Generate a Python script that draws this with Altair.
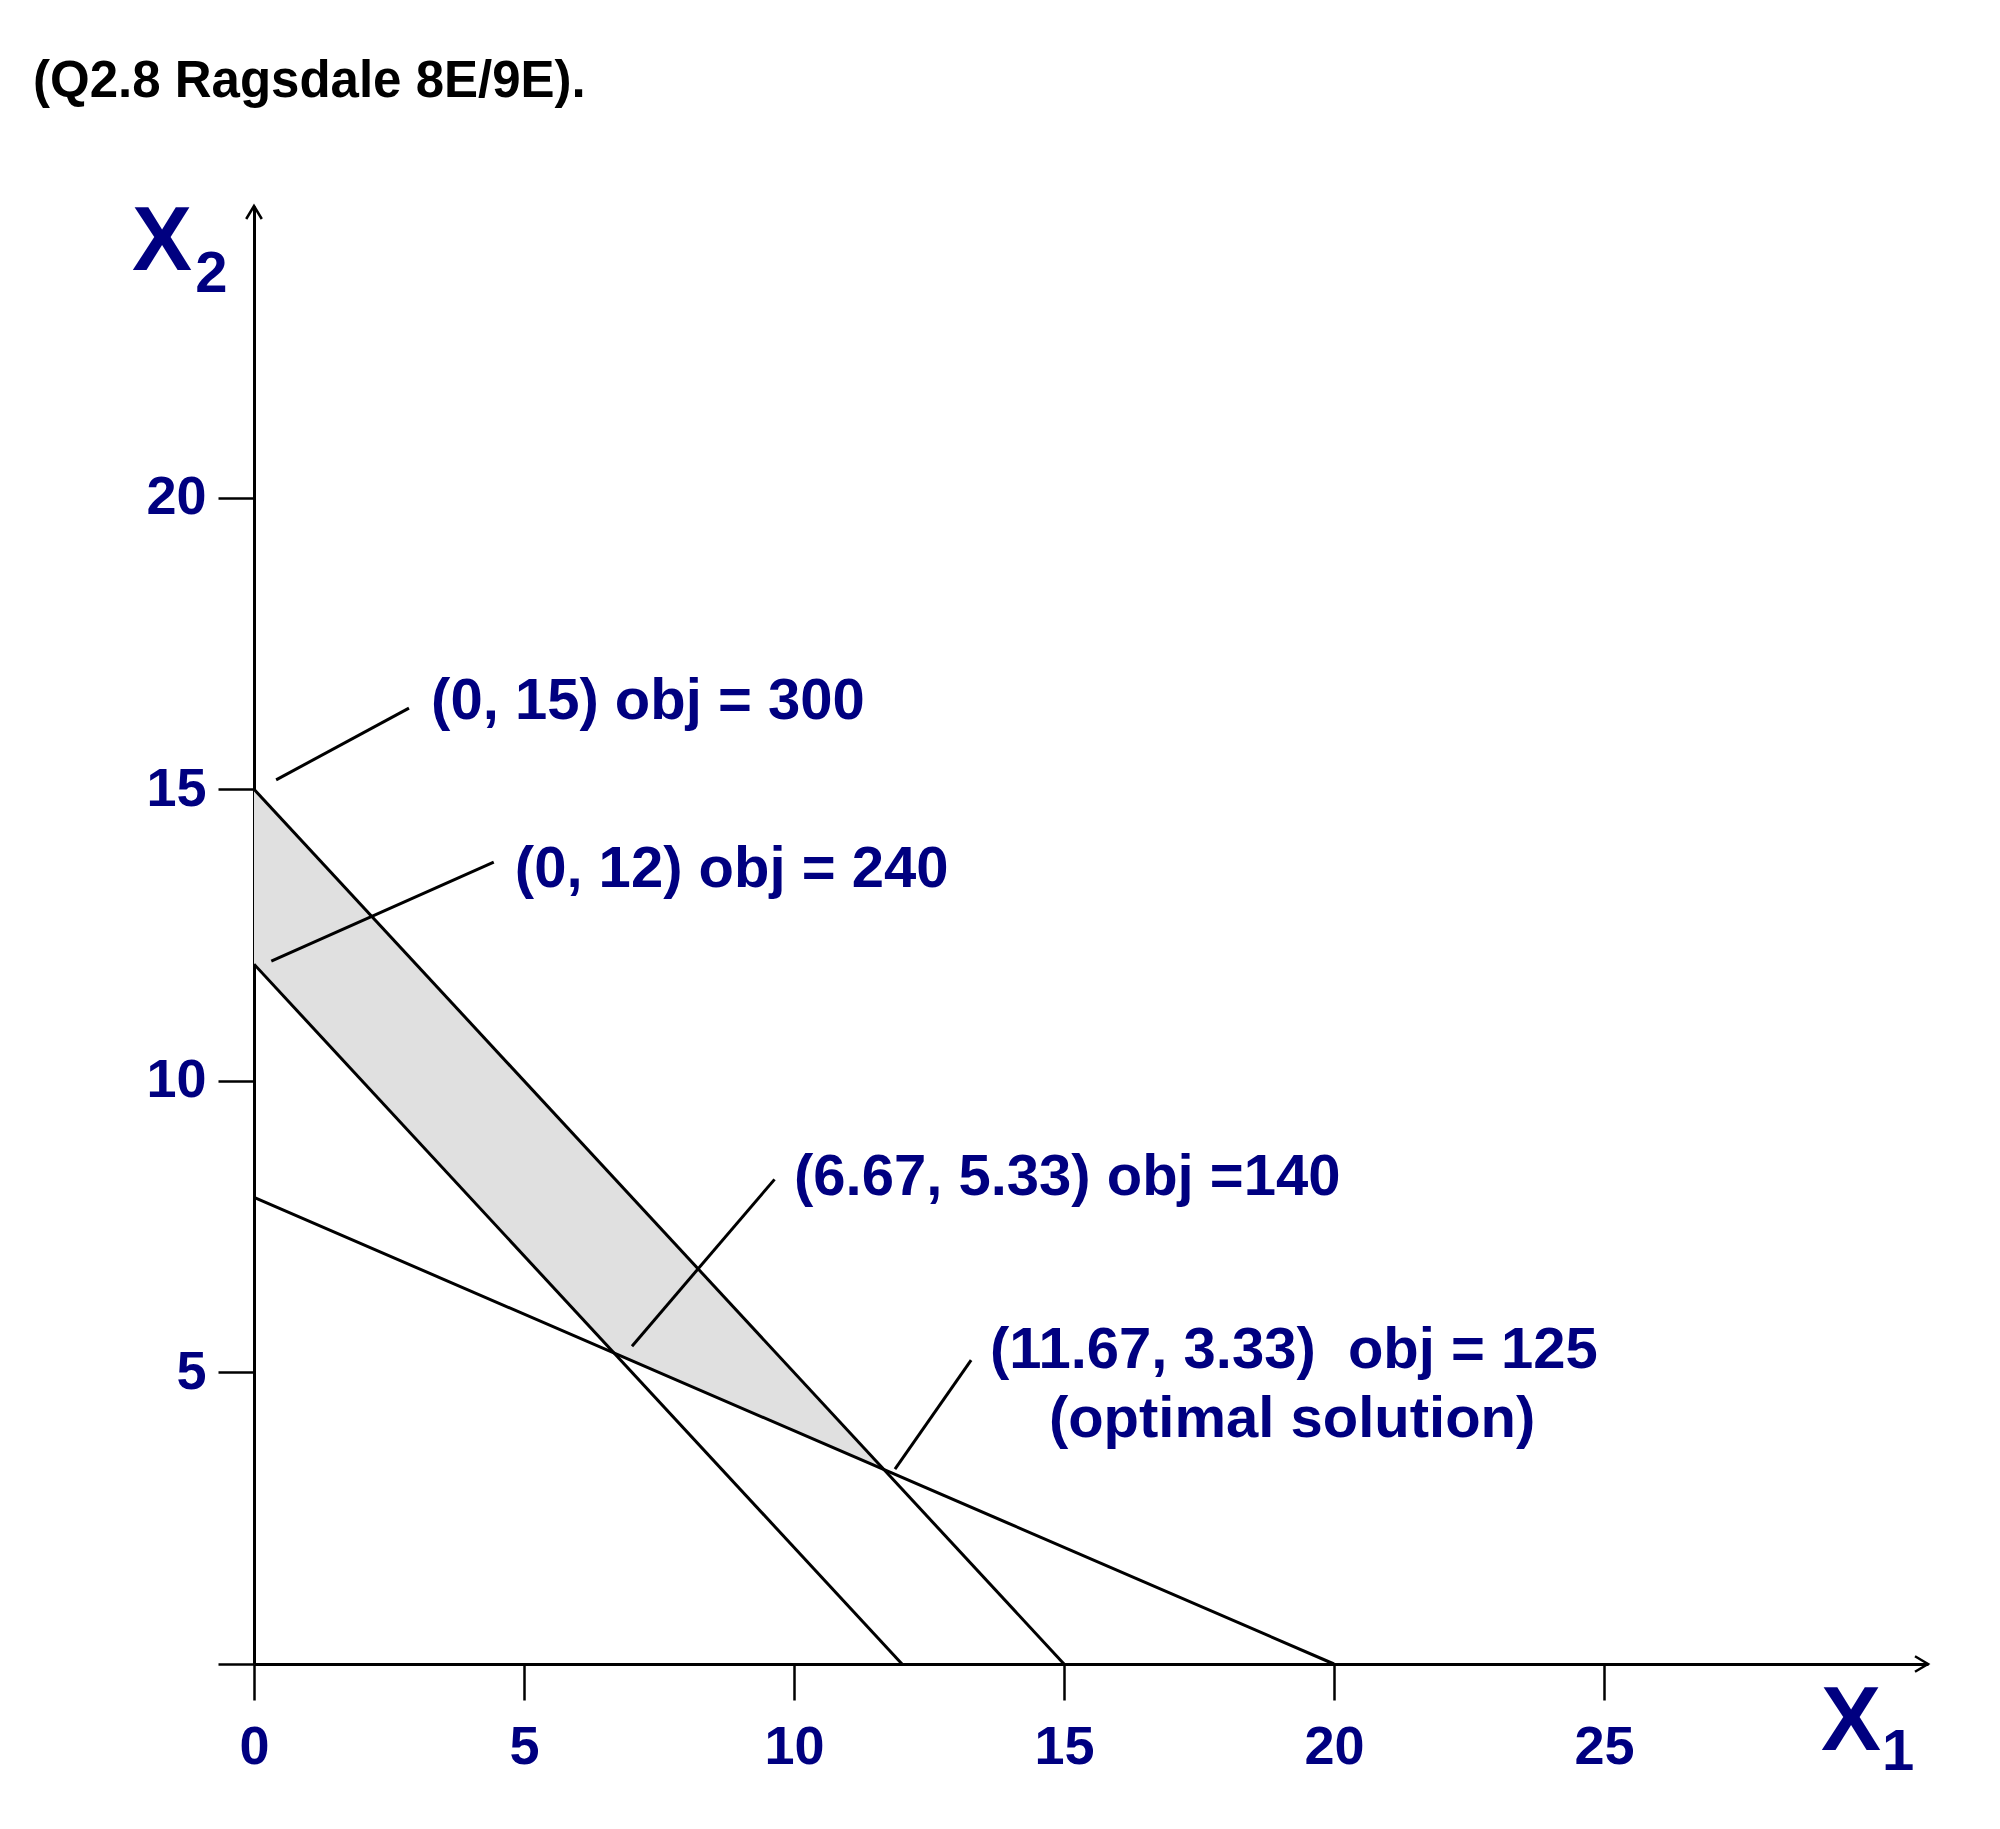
import altair as alt
import pandas as pd

NAVY = "#000080"
FONT = "Liberation Sans"

# ---- data ---------------------------------------------------------------
# constraint boundary lines: value on X2 axis (X1 = 0) and on X1 axis (X2 = 0)
line_names = ["c1", "c2", "c3"]
line_x2_at_zero = [15, 12, 8]
line_x1_at_zero = [15, 12, 20]

# shaded feasible region: upper and lower boundary at the corner X1 values
region_x = [0, 6.67, 11.67]
region_upper = [15, 8.33, 3.33]
region_lower = [12, 5.33, 3.33]

# annotation labels (left edge, baseline) in data units
ann_text = ["(0, 15) obj = 300", "(0, 12) obj = 240", "(6.67, 5.33) obj =140",
            "(11.67, 3.33)\u00a0 obj = 125", "(optimal solution)"]
ann_x = [3.28, 4.83, 10.0, 13.63, 14.72]
ann_y = [16.20, 13.32, 8.04, 5.08, 3.89]

# leader lines from corner points to labels
lead_x = [0.41, 0.32, 7.0, 11.87]
lead_y = [15.16, 12.05, 5.45, 3.34]
lead_x2 = [2.87, 4.44, 9.64, 13.28]
lead_y2 = [16.39, 13.75, 8.31, 5.21]

# axis names X2 / X1 (main letter + subscript)
axname_text = ["X", "2", "X", "1"]
axname_x = [-2.26, -1.09, 29.02, 30.15]
axname_y = [23.90, 23.53, -1.475, -1.82]
axname_size = [90, 58, 90, 58]

x_ticks = [0, 5, 10, 15, 20, 25]
y_ticks = [0, 5, 10, 15, 20]
X_MAX = 31
Y_MAX = 25

# ---- tables -------------------------------------------------------------
lines_df = pd.DataFrame({
    "c": line_names * 2,
    "x": [0] * 3 + line_x1_at_zero,
    "y": line_x2_at_zero + [0] * 3,
})
region_df = pd.DataFrame({"x": region_x, "y": region_upper, "y2": region_lower})
ann_df = pd.DataFrame({"t": ann_text, "x": ann_x, "y": ann_y})
lead_df = pd.DataFrame({"x": lead_x, "y": lead_y, "x2": lead_x2, "y2": lead_y2})
axname_df = pd.DataFrame({"t": axname_text, "x": axname_x, "y": axname_y, "fs": axname_size})
arrow_df = pd.DataFrame({
    "x": [X_MAX, 0], "y": [0, Y_MAX],
    "shape": ["M-1,-0.6L0,0L-1,0.6", "M-0.6,1L0,0L0.6,1"],
})

# ---- scales / axes ------------------------------------------------------
xs = alt.Scale(domain=[0, X_MAX], nice=False, zero=False)
ys = alt.Scale(domain=[0, Y_MAX], nice=False, zero=False)
axis_common = dict(grid=False, domainColor="black", domainWidth=3,
                   tickColor="black", tickWidth=2.5, tickSize=36,
                   labelFont=FONT, labelFontWeight="bold", labelFontSize=54,
                   labelColor=NAVY, title="")
xaxis = alt.Axis(values=x_ticks, labelPadding=20, labelFlush=False, labelAngle=0,
                 **axis_common)
yaxis = alt.Axis(values=y_ticks, labelPadding=12,
                 labelExpr="datum.value == 0 ? '' : datum.label", **axis_common)


def X(f):
    return alt.X(f, type="quantitative", scale=xs, axis=xaxis)


def Y(f):
    return alt.Y(f, type="quantitative", scale=ys, axis=yaxis)


region = alt.Chart(region_df).mark_area(color="#e0e0e0", opacity=1).encode(
    x=X("x"), y=Y("y"), y2="y2")

lines = alt.Chart(lines_df).mark_line(color="black", strokeWidth=3).encode(
    x=X("x"), y=Y("y"), detail="c:N")

leaders = alt.Chart(lead_df).mark_rule(color="black", strokeWidth=3).encode(
    x=X("x"), y=Y("y"), x2="x2", y2="y2")

labels = alt.Chart(ann_df).mark_text(
    align="left", baseline="alphabetic", font=FONT, fontWeight="bold",
    fontSize=58, color=NAVY).encode(x=X("x"), y=Y("y"), text="t:N")

axnames = alt.Chart(axname_df).mark_text(
    align="left", baseline="alphabetic", font=FONT, fontWeight="bold",
    color=NAVY).encode(x=X("x"), y=Y("y"), text="t:N",
                       size=alt.Size("fs:Q", scale=None, legend=None))

arrows = alt.Chart(arrow_df).mark_point(
    filled=False, color="black", strokeWidth=2.5, size=676, opacity=1).encode(
    x=X("x"), y=Y("y"), shape=alt.Shape("shape:N", scale=None, legend=None))

chart = alt.layer(region, lines, leaders, labels, axnames, arrows).properties(
    width=1674, height=1458,
    padding={"left": 254, "top": 206, "right": 72, "bottom": 165},
    autosize=alt.AutoSizeParams(type="none"),
    title=alt.TitleParams(text="(Q2.8 Ragsdale 8E/9E).", anchor="start",
                          frame="group", dx=-221, offset=50,
                          baseline="alphabetic", fontSize=51, font=FONT,
                          fontWeight="bold", color="black"),
).configure_view(stroke="transparent")

chart.save("out.html", embed_options={"renderer": "svg", "actions": False})
